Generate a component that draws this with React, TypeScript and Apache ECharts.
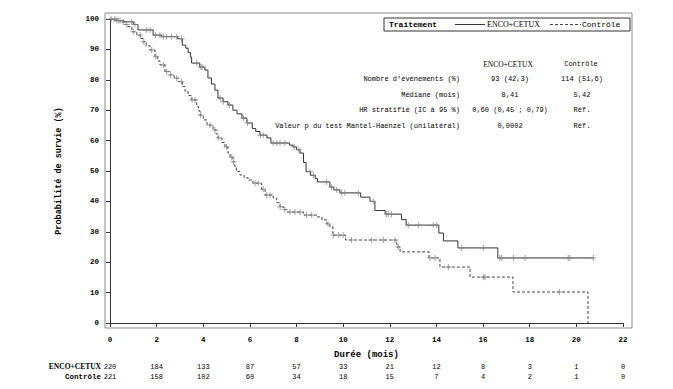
import React, { useEffect, useRef } from "react";
import * as echarts from "echarts";

const X_TICKS = [0, 2, 4, 6, 8, 10, 12, 14, 16, 18, 20, 22];
const ENCO_RISK = [220, 184, 133, 87, 57, 33, 21, 12, 8, 3, 1, 0];
const CTRL_RISK = [221, 158, 102, 60, 34, 18, 15, 7, 4, 2, 1, 0];

const ENCO_T = [0, 0.3, 0.6, 1.0, 1.2, 1.85, 2.2, 2.9, 3.1, 3.25, 3.35, 3.45, 3.5, 3.85, 4.07, 4.2, 4.35, 4.5, 4.63, 4.85, 5.06, 5.27, 5.45, 5.66, 5.87, 6.1, 6.25, 6.43, 6.73, 6.9, 7.7, 7.85, 8.0, 8.15, 8.3, 8.41, 8.6, 8.8, 8.9, 9.43, 9.6, 9.86, 10.75, 11.15, 11.36, 11.8, 12.5, 12.7, 14.1, 14.3, 14.92, 16.63, 20.73];
const ENCO_S = [100, 99.5, 99.1, 98.2, 96.4, 94.7, 94.2, 93.5, 91.4, 90.4, 89, 87.5, 85.5, 84.2, 83.2, 80.6, 78.6, 76.6, 74, 72.8, 71.7, 70, 68.8, 67.4, 65.8, 64, 63, 61.8, 60.9, 59.2, 58.5, 57.9, 57, 55.9, 52.8, 49.8, 48.6, 47.5, 46.4, 44.7, 43.8, 42.8, 41.4, 40, 37, 35.8, 34, 32.2, 29.6, 27, 24.7, 21.4, 21.4];

const CTRL_T = [0, 0.2, 0.43, 0.6, 0.73, 0.94, 1.15, 1.3, 1.42, 1.55, 1.72, 1.93, 2.05, 2.14, 2.36, 2.57, 2.75, 2.92, 3.1, 3.22, 3.35, 3.5, 3.72, 3.8, 3.86, 4.0, 4.16, 4.42, 4.55, 4.63, 4.8, 4.93, 5.06, 5.15, 5.27, 5.35, 5.42, 5.57, 5.75, 5.92, 6.13, 6.5, 6.65, 7.0, 7.15, 7.29, 7.45, 7.59, 8.3, 8.87, 9.09, 9.3, 9.43, 9.56, 10.1, 12.3, 12.44, 13.68, 14.15, 15.44, 17.28, 20.5];
const CTRL_S = [100, 99.5, 99, 98.2, 97.5, 95.8, 94.7, 93.6, 92.5, 91.2, 89.8, 87.6, 86.2, 84.9, 82.7, 81.6, 80.5, 79.4, 77.8, 76.1, 74.8, 73.4, 71.2, 69.8, 68.4, 66.8, 65.1, 63.5, 62.2, 60.9, 59.4, 57.9, 55.9, 54.5, 53, 51.6, 49.8, 48.7, 47.8, 47, 46, 44, 42.1, 41.1, 39.6, 38.2, 37.3, 36.5, 35.5, 34.9, 33.9, 32.6, 31.6, 28.9, 27.3, 25, 23.4, 21.4, 18.4, 15.1, 10.2, 0];

const ENCO_CENSOR = [0.05, 0.21, 0.36, 0.43, 0.93, 1.07, 1.57, 1.72, 1.95, 2.14, 2.29, 2.43, 2.64, 2.86, 3.07, 3.72, 3.9, 3.95, 4.72, 4.86, 5.12, 5.72, 5.9, 6.45, 6.57, 7.0, 7.15, 7.29, 7.5, 7.9, 8.1, 8.58, 8.72, 9.29, 9.5, 9.72, 9.93, 10.07, 10.65, 11.29, 11.86, 11.93, 12.07, 12.79, 13.22, 13.86, 14.01, 15.08, 16.01, 16.72, 16.8, 17.3, 17.8, 19.65, 19.72, 20.73];
const CTRL_CENSOR = [0.29, 0.57, 0.72, 1.0, 1.29, 1.45, 1.79, 1.97, 2.29, 2.43, 2.6, 2.86, 3.07, 3.52, 3.64, 3.88, 4.29, 4.5, 4.66, 5.0, 5.22, 5.3, 6.22, 6.36, 6.57, 6.72, 6.86, 7.3, 7.5, 7.72, 7.93, 8.15, 8.43, 8.65, 9.35, 9.58, 9.79, 10.0, 10.36, 11.22, 11.72, 12.22, 12.36, 13.72, 13.94, 14.51, 16.01, 16.08, 19.27];

const TABLE_HEAD = ["ENCO+CETUX", "Contrôle"];
const TABLE_ROWS = ["Nombre d’événements (%)", "Médiane (mois)", "HR stratifié (IC à 95 %)", "Valeur p du test Mantel-Haenzel (unilatéral)"];
const TABLE_ENCO = ["93 (42,3)", "8,41", "0,60 (0,45 ; 0,79)", "0,0002"];
const TABLE_CTRL = ["114 (51,6)", "5,42", "Réf.", "Réf."];

const MONO = "'Liberation Mono', 'DejaVu Sans Mono', monospace";
const SERIF = "'Liberation Serif', 'DejaVu Serif', serif";

function stepAt(T: number[], S: number[], t: number): number {
  let v = S[0];
  for (let i = 0; i < T.length; i++) {
    if (T[i] <= t) v = S[i];
    else break;
  }
  return v;
}

const PLUS = "path://M0,5L10,5M5,0L5,10";

export default function App() {
  const ref = useRef<HTMLDivElement>(null);
  useEffect(() => {
    if (!ref.current) return;
    const chart = echarts.init(ref.current, undefined, { renderer: "svg" });
    const encoLine = ENCO_T.map((t, i) => [t, ENCO_S[i]]);
    const ctrlLine = CTRL_T.map((t, i) => [t, CTRL_S[i]]);
    const encoCens = ENCO_CENSOR.map((t) => [t, stepAt(ENCO_T, ENCO_S, t)]);
    const ctrlCens = CTRL_CENSOR.map((t) => [t, stepAt(CTRL_T, CTRL_S, t)]);

    const baseX = {
      type: "value",
      min: 0,
      max: 22,
      interval: 2,
      offset: 5,
      position: "bottom",
      splitLine: { show: false },
    };

    const tableGraphics: any[] = [];
    const rowY = [79, 94.5, 110, 125.5];
    tableGraphics.push({
      type: "text", x: 508, y: 64,
      style: { text: TABLE_HEAD[0], font: `7.5px ${SERIF}`, fill: "#000", align: "center", verticalAlign: "middle" },
    });
    tableGraphics.push({
      type: "text", x: 581, y: 64,
      style: { text: TABLE_HEAD[1], font: `7px ${MONO}`, fill: "#000", align: "center", verticalAlign: "middle" },
    });
    TABLE_ROWS.forEach((r, i) => {
      tableGraphics.push({
        type: "text", x: 460, y: rowY[i],
        style: { text: r, font: `7px ${MONO}`, fill: "#000", align: "right", verticalAlign: "middle" },
      });
      tableGraphics.push({
        type: "text", x: 510, y: rowY[i],
        style: { text: TABLE_ENCO[i], font: `7px ${MONO}`, fill: "#000", align: "center", verticalAlign: "middle" },
      });
      tableGraphics.push({
        type: "text", x: 582, y: rowY[i],
        style: { text: TABLE_CTRL[i], font: `7px ${MONO}`, fill: "#000", align: "center", verticalAlign: "middle" },
      });
    });

    chart.setOption({
      animation: false,
      backgroundColor: "#fff",
      grid: { left: 110, right: 50, top: 19, bottom: 66, containLabel: false, outerBoundsMode: "none" },
      xAxis: [
        {
          ...baseX,
          axisLine: { show: true, lineStyle: { color: "#333", width: 1 } },
          axisTick: { show: true, length: 4, lineStyle: { color: "#333" } },
          axisLabel: { fontFamily: MONO, fontSize: 7.5, fontWeight: "bold", color: "#000", margin: 8 },
          name: "Durée (mois)",
          nameLocation: "middle",
          nameGap: 22,
          nameTextStyle: { fontFamily: MONO, fontSize: 9, fontWeight: "bold", color: "#000" },
        },
        {
          ...baseX,
          axisLine: { show: false },
          axisTick: { show: false },
          axisLabel: {
            fontFamily: MONO, fontSize: 7, color: "#000", margin: 35,
            formatter: (v: number) => String(ENCO_RISK[X_TICKS.indexOf(v)]),
          },
        },
        {
          ...baseX,
          axisLine: { show: false },
          axisTick: { show: false },
          axisLabel: {
            fontFamily: MONO, fontSize: 7, color: "#000", margin: 45,
            formatter: (v: number) => String(CTRL_RISK[X_TICKS.indexOf(v)]),
          },
        },
      ],
      yAxis: {
        type: "value",
        min: 0,
        max: 100,
        interval: 10,
        offset: 5,
        splitLine: { show: false },
        axisLine: { show: true, lineStyle: { color: "#333", width: 1 } },
        axisTick: { show: true, length: 4, lineStyle: { color: "#333" } },
        axisLabel: { fontFamily: MONO, fontSize: 7.5, fontWeight: "bold", color: "#000", margin: 6 },
        name: "Probabilité de survie (%)",
        nameLocation: "middle",
        nameGap: 42,
        nameTextStyle: { fontFamily: MONO, fontSize: 8.5, fontWeight: "bold", color: "#000" },
      },
      series: [
        {
          name: "ENCO+CETUX",
          type: "line",
          step: "end",
          data: encoLine,
          showSymbol: false,
          lineStyle: { color: "#333", width: 1 },
          z: 3,
        },
        {
          name: "Contrôle",
          type: "line",
          step: "end",
          data: ctrlLine,
          showSymbol: false,
          lineStyle: { color: "#444", width: 1, type: [3, 2] },
          z: 3,
        },
        {
          type: "scatter",
          data: encoCens,
          symbol: PLUS,
          symbolSize: 6,
          itemStyle: { color: "none", borderColor: "#888", borderWidth: 1 },
          z: 4,
        },
        {
          type: "scatter",
          data: ctrlCens,
          symbol: PLUS,
          symbolSize: 6,
          itemStyle: { color: "none", borderColor: "#888", borderWidth: 1 },
          z: 4,
        },
      ],
      graphic: [
        {
          type: "rect",
          shape: { x: 105, y: 13, width: 527, height: 315 },
          style: { fill: "none", stroke: "#888", lineWidth: 1 },
          silent: true,
        },
        {
          type: "rect",
          shape: { x: 384, y: 18, width: 246, height: 13 },
          style: { fill: "#fff", stroke: "#333", lineWidth: 1 },
          z: 10,
        },
        {
          type: "text", x: 389, y: 24.5, z: 11,
          style: { text: "Traitement", font: `bold 8px ${MONO}`, fill: "#000", verticalAlign: "middle" },
        },
        {
          type: "line", z: 11,
          shape: { x1: 455, y1: 24.5, x2: 485, y2: 24.5 },
          style: { stroke: "#333", lineWidth: 1 },
        },
        {
          type: "text", x: 487, y: 24.5, z: 11,
          style: { text: "ENCO+CETUX", font: `8px ${SERIF}`, fill: "#000", verticalAlign: "middle" },
        },
        {
          type: "line", z: 11,
          shape: { x1: 550, y1: 24.5, x2: 581, y2: 24.5 },
          style: { stroke: "#444", lineWidth: 1, lineDash: [3, 2] },
        },
        {
          type: "text", x: 582, y: 24.5, z: 11,
          style: { text: "Contrôle", font: `8px ${MONO}`, fill: "#000", verticalAlign: "middle" },
        },
        {
          type: "text", x: 101, y: 366.5,
          style: { text: "ENCO+CETUX", font: `bold 7.5px ${SERIF}`, fill: "#000", align: "right", verticalAlign: "middle" },
        },
        {
          type: "text", x: 101, y: 376.5,
          style: { text: "Contrôle", font: `bold 7.5px ${MONO}`, fill: "#000", align: "right", verticalAlign: "middle" },
        },
        ...tableGraphics,
      ],
    });
    return () => chart.dispose();
  }, []);
  return (
    <div
      ref={ref}
      style={{ position: "absolute", left: 0, top: 0, width: 673, height: 389, background: "#fff" }}
    />
  );
}
